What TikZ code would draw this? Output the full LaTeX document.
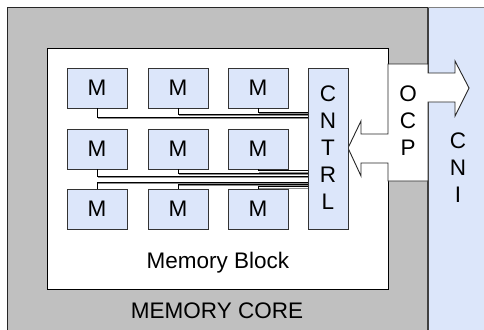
\documentclass[tikz,border=0pt]{standalone}
\usepackage{fontspec}
\setmainfont{Liberation Sans}
\begin{document}
\begin{tikzpicture}[x=1pt,y=-1pt,
  line join=miter,
  lbl/.style={font=\fontsize{22.5}{27}\selectfont, text=black, inner sep=0pt, align=center},
  mbox/.style={draw=black!80, line width=0.9pt, fill=blueL, minimum width=60pt, minimum height=40pt, inner sep=0pt, font=\fontsize{22.5}{27}\selectfont},
  wire/.style={draw=black, line width=0.8pt},
  wireshade/.style={draw=black!45, line width=1pt}
]
\definecolor{blueL}{HTML}{DCE6FA}
\definecolor{grayC}{HTML}{C0C0C0}
\useasboundingbox (0,0) rectangle (484,329);
% memory core
\path[fill=grayC] (7,8) rectangle (428,335);
\draw[black!85, line width=1pt] (7,335) -- (7,8) -- (428,8) -- (428,335);
% CNI panel
\path[fill=blueL] (428,8) rectangle (490,335);
\draw[black!50, line width=1pt] (428,8) -- (490,8);
\draw[black!75, line width=1.2pt] (428,8) -- (428,335);
% memory block
\node[draw=black, line width=0.9pt, fill=white, minimum width=341pt, minimum height=241pt, inner sep=0pt, anchor=north west] (mb) at (47,48) {};
% OCP double arrow
\draw[black!85, line width=0.9pt, fill=white]
  (388,134) -- (361,134) -- (361,121) -- (348,148) -- (361,176) -- (361,163) -- (388,163)
  -- (388,181) -- (428,181) -- (428,102) -- (455,102) -- (455,116) -- (469,88) -- (455,61)
  -- (455,73) -- (428,73) -- (428,64) -- (388,64) -- cycle;
% M boxes
\node[mbox] (m11) at (97,88) {M};
\node[mbox] (m12) at (178,88) {M};
\node[mbox] (m13) at (258,88) {M};
\node[mbox] (m21) at (97,149) {M};
\node[mbox] (m22) at (178,149) {M};
\node[mbox] (m23) at (258,149) {M};
\node[mbox] (m31) at (97,209) {M};
\node[mbox] (m32) at (178,209) {M};
\node[mbox] (m33) at (258,209) {M};
% controller
\node[draw=black!80, line width=0.9pt, fill=blueL, minimum width=40pt, minimum height=161pt, inner sep=0pt] (ctl) at (328,148.5) {};
\node[lbl] (ctltext) at (328,148) {C\\N\\T\\R\\L};
% wires
\foreach \m/\y in {m11/117, m12/114.5, m13/112, m21/176, m22/173.3, m23/170.7} {
  \draw[wireshade] ([xshift=1.3pt]\m.south |- 0,\y+1.3) -- (ctl.west |- 0,\y+1.3);
  \draw[wire] (\m.south) -- (\m.south |- 0,\y) -- (ctl.west |- 0,\y);
}
\foreach \m/\y in {m31/182, m32/184.4, m33/186.8} {
  \draw[wireshade] ([xshift=1.3pt]\m.north |- 0,\y+1.3) -- (ctl.west |- 0,\y+1.3);
  \draw[wire] (\m.north) -- (\m.north |- 0,\y) -- (ctl.west |- 0,\y);
}
% labels
\node[lbl] (ocp) at (408,121) {O\\C\\P};
\node[lbl] (cni) at (458,168) {C\\N\\I};
\node[lbl] (mbl) at (218,263) {Memory Block};
\node[lbl] (mcl) at (217,311) {MEMORY CORE};
\end{tikzpicture}
\end{document}
